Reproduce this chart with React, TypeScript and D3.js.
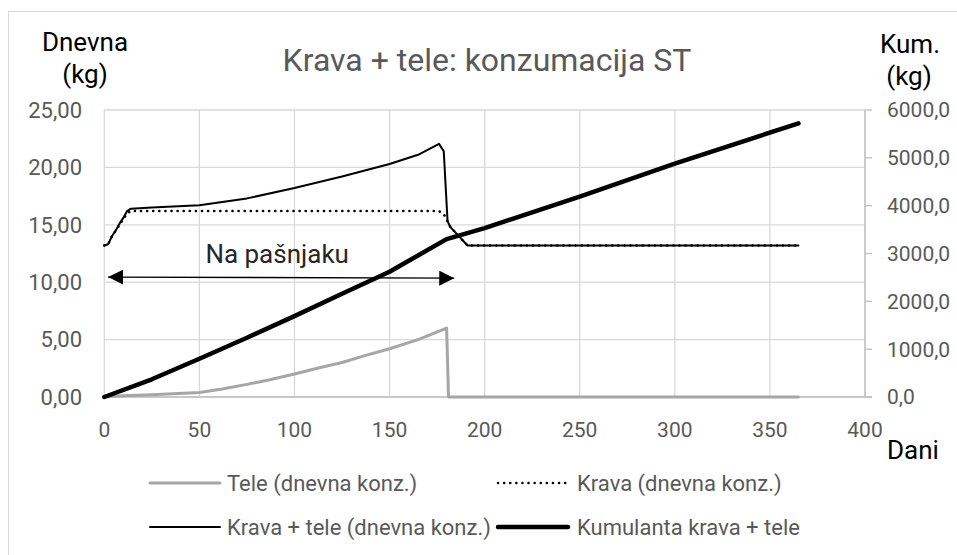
import React from 'react';
import * as d3 from 'd3';

// dnevna konzumacija teleta (kg ST / dan)
const teleDays = [0, 10, 25, 50, 62, 75, 87, 100, 112, 125, 137, 150, 165, 180, 181, 365];
const teleKg = [0, 0.1, 0.2, 0.4, 0.7, 1.1, 1.5, 2.0, 2.5, 3.0, 3.6, 4.2, 5.0, 6.0, 0, 0];

// dnevna konzumacija krave
const kravaDays = [0, 2, 4, 6, 8, 10, 12, 14, 176, 179, 180.5, 182, 191, 365];
const kravaKg = [13.2, 13.3, 14.0, 14.5, 15.0, 15.5, 16.0, 16.2, 16.2, 15.8, 15.3, 14.8, 13.2, 13.2];

// krava + tele
const skupajDays = [0, 2, 4, 6, 8, 10, 12, 14, 25, 50, 75, 100, 125, 150, 165, 176, 178.5, 180.5, 182, 191, 365];
const skupajKg = [13.2, 13.3, 14.0, 14.5, 15.1, 15.6, 16.2, 16.4, 16.5, 16.7, 17.3, 18.2, 19.2, 20.3, 21.1, 22.05, 21.4, 15.3, 14.8, 13.2, 13.2];

// kumulanta (desna os)
const kumDays = [0, 25, 50, 75, 100, 125, 150, 180, 200, 250, 300, 365];
const kumKg = [0, 370, 800, 1240, 1690, 2160, 2620, 3300, 3530, 4190, 4880, 5720];

const xTicks = [0, 50, 100, 150, 200, 250, 300, 350, 400];
const yLeftTicks = [0, 5, 10, 15, 20, 25];
const yRightTicks = [0, 1000, 2000, 3000, 4000, 5000, 6000];

// puščica "Na pašnjaku"
const arrowDays = [2, 184];
const arrowKg = [10.45, 10.35];

const legendRows = [
  [
    { label: 'Tele (dnevna konz.)', color: '#a6a6a6', width: 3, dotted: false },
    { label: 'Krava (dnevna konz.)', color: '#000', width: 2.5, dotted: true },
  ],
  [
    { label: 'Krava + tele (dnevna konz.)', color: '#000', width: 2, dotted: false },
    { label: 'Kumulanta krava + tele', color: '#000', width: 4.5, dotted: false },
  ],
];

const W = 957;
const H = 555;
const plot = { left: 104.3, right: 865, top: 110, bottom: 397 };
const font = 'Roboto, "Open Sans", sans-serif';
const grid = '#d9d9d9';
const txt = '#595959';
const dots = '0.1 6';

const fmt = (v: number, d: number) => v.toFixed(d).replace('.', ',');

export default function App() {
  const x = d3.scaleLinear().domain([0, 400]).range([plot.left, plot.right]);
  const yL = d3.scaleLinear().domain([0, 25]).range([plot.bottom, plot.top]);
  const yR = d3.scaleLinear().domain([0, 6000]).range([plot.bottom, plot.top]);

  const path = (days: number[], vals: number[], y: d3.ScaleLinear<number, number>) =>
    d3.line<number>()
      .x((d) => x(d))
      .y((_, i) => y(vals[i]))(days) as string;

  const legX = [150, 498];
  const legTextX = [227, 577];
  const legY = [483, 527];
  const legLen = 70;

  return (
    <svg width={W} height={H} style={{ position: 'absolute', left: 0, top: 0, background: '#fff' }}
      fontFamily={font}>
      <defs>
        <marker id="arr" markerUnits="userSpaceOnUse" markerWidth="16" markerHeight="16"
          refX="15" refY="7.5" orient="auto-start-reverse" viewBox="0 0 16 16">
          <path d="M0,0 L15,7.5 L0,15 Z" fill="#000" />
        </marker>
      </defs>
      <rect x={8.5} y={11.5} width={W} height={H} fill="#fff" stroke={grid} strokeWidth={1} />

      {/* mreža */}
      {xTicks.map((t) => (
        <line key={'gx' + t} x1={x(t)} x2={x(t)} y1={plot.top} y2={plot.bottom} stroke={grid} strokeWidth={1.3} />
      ))}
      {yLeftTicks.map((t) => (
        <line key={'gy' + t} x1={plot.left} x2={plot.right} y1={yL(t)} y2={yL(t)} stroke={grid} strokeWidth={1.3} />
      ))}
      {/* desna os */}
      <line x1={plot.right} x2={plot.right} y1={plot.top} y2={plot.bottom} stroke="#bfbfbf" strokeWidth={1.3} />
      {yRightTicks.map((t) => (
        <line key={'rt' + t} x1={plot.right} x2={plot.right + 7} y1={yR(t)} y2={yR(t)} stroke="#bfbfbf" strokeWidth={1.3} />
      ))}
      <line x1={plot.left} x2={plot.right + 7} y1={plot.bottom} y2={plot.bottom} stroke="#bfbfbf" strokeWidth={1.3} />

      {/* serije */}
      <g fill="none" strokeLinejoin="round" strokeLinecap="round">
        <path d={path(teleDays, teleKg, yL)} stroke="#a6a6a6" strokeWidth={3} />
        <path d={path(kravaDays, kravaKg, yL)} stroke="#000" strokeWidth={2.6} strokeDasharray={dots} />
        <path d={path(skupajDays, skupajKg, yL)} stroke="#000" strokeWidth={2} />
        <path d={path(kumDays, kumKg, yR)} stroke="#000" strokeWidth={4.5} />
      </g>

      {/* anotacija */}
      <line x1={x(arrowDays[0])} y1={yL(arrowKg[0])} x2={x(arrowDays[1])} y2={yL(arrowKg[1])}
        stroke="#000" strokeWidth={1.3} markerStart="url(#arr)" markerEnd="url(#arr)" />
      <text x={x((arrowDays[0] + arrowDays[1]) / 2) - 4} y={263} textAnchor="middle" fontSize={26} fill="#262626">
        Na pašnjaku
      </text>

      {/* oznake osi */}
      {yLeftTicks.map((t) => (
        <text key={'lt' + t} x={82} y={yL(t)} dy="0.35em" textAnchor="end" fontSize={22} fill={txt}>
          {fmt(t, 2)}
        </text>
      ))}
      {yRightTicks.map((t) => (
        <text key={'rl' + t} x={887} y={yR(t)} dy="0.35em" textAnchor="start" fontSize={21} fill={txt}>
          {fmt(t, 1)}
        </text>
      ))}
      {xTicks.map((t) => (
        <text key={'xl' + t} x={x(t)} y={437} textAnchor="middle" fontSize={21} fill={txt}>
          {t}
        </text>
      ))}

      {/* naslovi */}
      <text x={487} y={71} textAnchor="middle" fontSize={32} fill={txt}>Krava + tele: konzumacija ST</text>
      <text x={85} y={51} textAnchor="middle" fontSize={26} fill="#000">Dnevna</text>
      <text x={85} y={83} textAnchor="middle" fontSize={26} fill="#000">(kg)</text>
      <text x={910} y={53} textAnchor="middle" fontSize={26} fill="#000">Kum.</text>
      <text x={909} y={85} textAnchor="middle" fontSize={26} fill="#000">(kg)</text>
      <text x={887} y={459} textAnchor="start" fontSize={26} fill="#000">Dani</text>

      {/* legenda */}
      {legendRows.map((row, r) =>
        row.map((it, c) => (
          <g key={it.label}>
            <line x1={legX[c]} x2={legX[c] + legLen} y1={legY[r]} y2={legY[r]} stroke={it.color}
              strokeWidth={it.width} strokeDasharray={it.dotted ? dots : undefined}
              strokeLinecap="round" />
            <text x={legTextX[c]} y={legY[r]} dy="0.35em" fontSize={22} fill={txt}>{it.label}</text>
          </g>
        ))
      )}
    </svg>
  );
}
